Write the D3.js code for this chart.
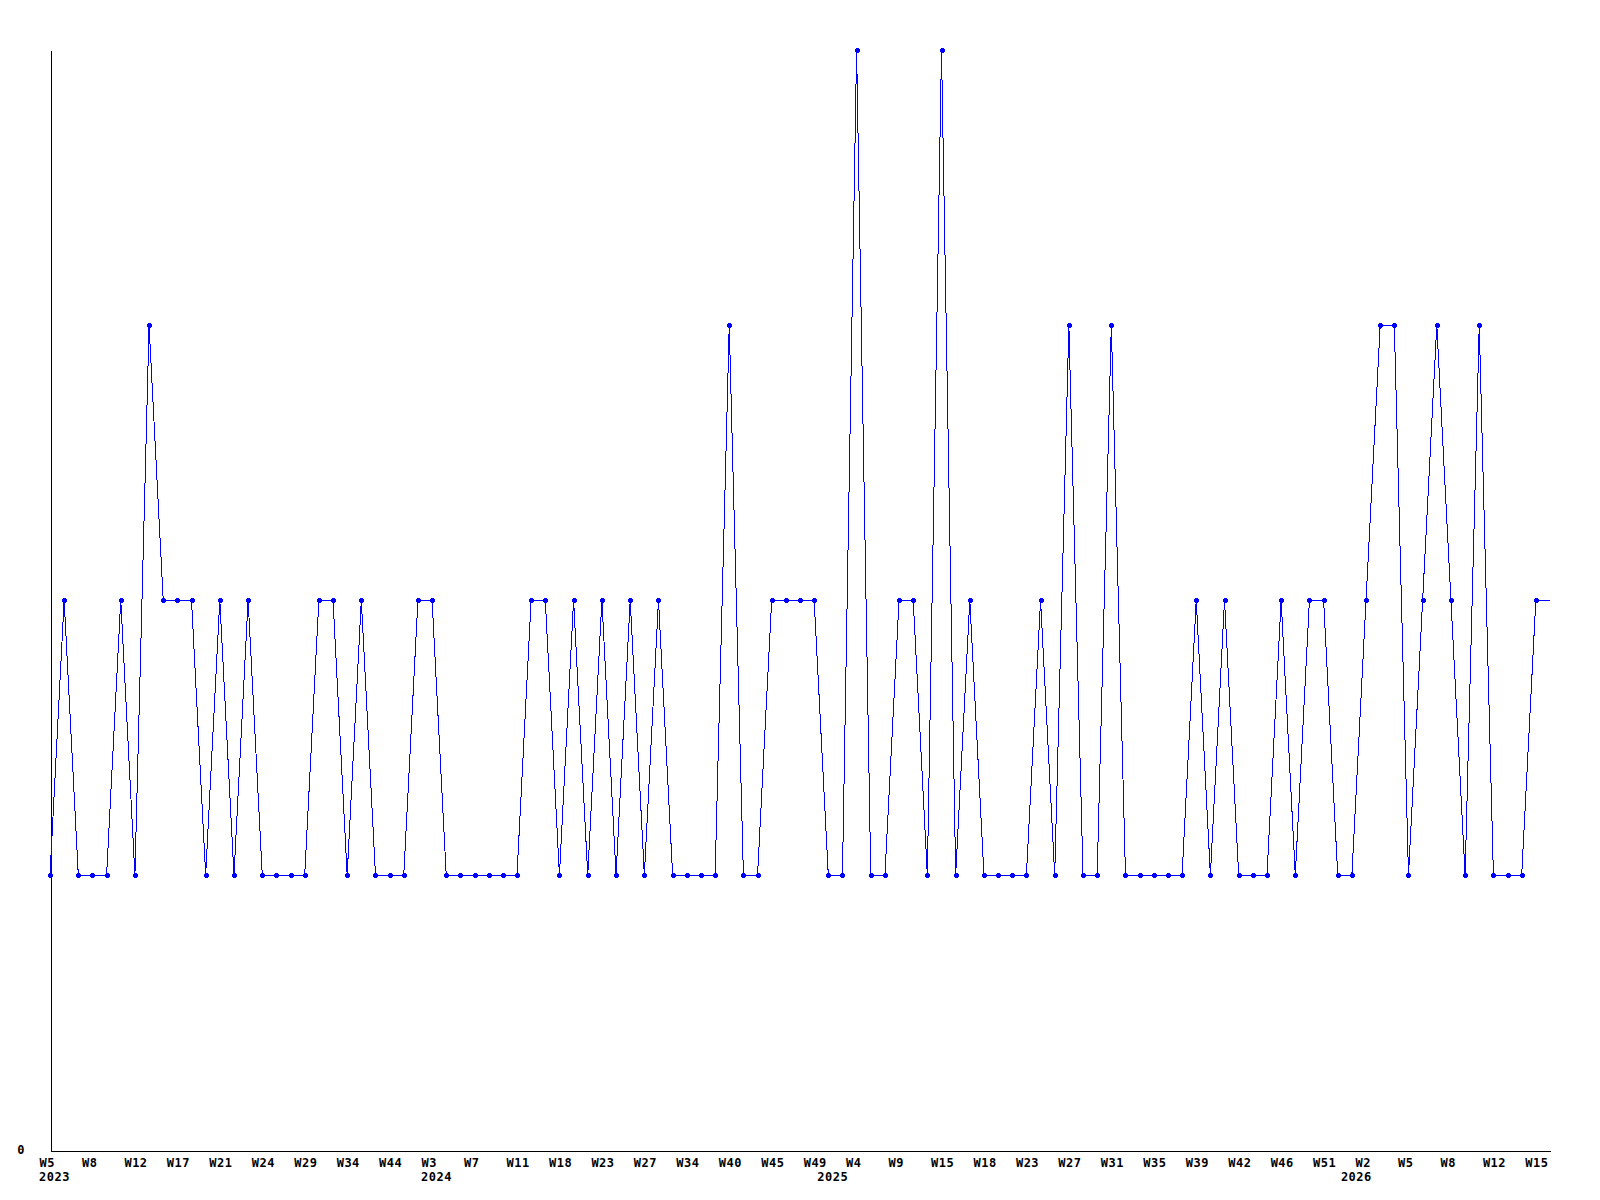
<!DOCTYPE html>
<html><head><meta charset="utf-8">
<script src="https://cdn.jsdelivr.net/npm/d3@7"></script>
<style>body{margin:0;background:#fff}svg{display:block}</style>
</head><body><svg id="c" width="1600" height="1200"></svg>
<script>
// weekly values (one per data point, left to right)
const values = [
  1,2,1,1,1,2,1,3,2,2,
  2,1,2,1,2,1,1,1,1,2,
  2,1,2,1,1,1,2,2,1,1,
  1,1,1,1,2,2,1,2,1,2,
  1,2,1,2,1,1,1,1,3,1,
  1,2,2,2,2,1,1,4,1,1,
  2,2,1,4,1,2,1,1,1,1,
  2,1,3,1,1,3,1,1,1,1,
  1,2,1,2,1,1,1,2,1,2,
  2,1,1,2,3,3,1,2,3,2,
  1,3,1,1,1,2,2
];
// week labels, one for every third data point
const tickLabels = ["W5","W8","W12","W17","W21","W24","W29","W34","W44","W3","W7","W11",
  "W18","W23","W27","W34","W40","W45","W49","W4","W9","W15","W18","W23","W27","W31",
  "W35","W39","W42","W46","W51","W2","W5","W8","W12","W15"];
const tickStep = 3;
// years and the index of the first data point in each year
const years = ["2023","2024","2025","2026"];
const yearStart = [0,27,55,92];
const yTicks = [0];
const yMax = 4;

const W = 1600, H = 1200;
const m = {left:50, right:50, top:50, bottom:50};
const svg = d3.select("#c");
const font = "'DejaVu Sans Mono', monospace";

const x = d3.scaleLinear().domain([0, values.length - 1]).range([m.left, W - m.right]);
const y = d3.scaleLinear().domain([0, yMax]).range([H - m.bottom, m.top]);

function styleText(sel) {
  sel.attr("font-family", font).attr("font-size", 12).attr("font-weight", "bold")
     .attr("letter-spacing", 0.5).attr("fill", "#000");
}

// x axis
const xAxis = d3.axisBottom(x)
  .tickValues(tickLabels.map((_, i) => i * tickStep))
  .tickFormat((d, i) => tickLabels[i])
  .tickSize(0).tickSizeOuter(0);
const gx = svg.append("g").attr("transform", `translate(0,${H - m.bottom + 0.5})`).call(xAxis);
gx.select(".domain").attr("stroke", "#000").attr("shape-rendering", "crispEdges");
gx.selectAll(".tick text")
  .attr("text-anchor", "start").attr("x", -11).attr("y", 16.5).attr("dy", 0)
  .call(styleText);

// year labels
svg.append("g").selectAll("text").data(years).join("text")
  .attr("x", (d, i) => x(yearStart[i]) - 11).attr("y", H - m.bottom + 31)
  .call(styleText)
  .text(d => d);

// y axis
const yAxis = d3.axisLeft(y).tickValues(yTicks).tickFormat(d3.format("d")).tickSize(0).tickSizeOuter(0);
const gy = svg.append("g").attr("transform", `translate(${m.left + 0.5},0)`).call(yAxis);
gy.select(".domain").attr("stroke", "#000").attr("shape-rendering", "crispEdges");
gy.selectAll(".tick text")
  .attr("x", -25.5).attr("dy", 3.5)
  .call(styleText);

// line
const line = d3.line().x((d, i) => x(i)).y(d => y(d));
svg.append("path").datum(values)
  .attr("d", line).attr("fill", "none").attr("stroke", "#0000ff").attr("stroke-width", 1)
  .attr("shape-rendering", "crispEdges");

// markers (all recorded points except the running last one)
svg.append("g").selectAll("path").data(values.slice(0, -1)).join("path")
  .attr("d", (d, i) => {
    const cx = Math.round(x(i)), cy = Math.round(y(d));
    return `M${cx-2},${cy-1}h5v3h-5zM${cx-1},${cy-2}h3v5h-3z`;
  })
  .attr("fill", "#0000ff").attr("shape-rendering", "crispEdges");
</script>
</body></html>
